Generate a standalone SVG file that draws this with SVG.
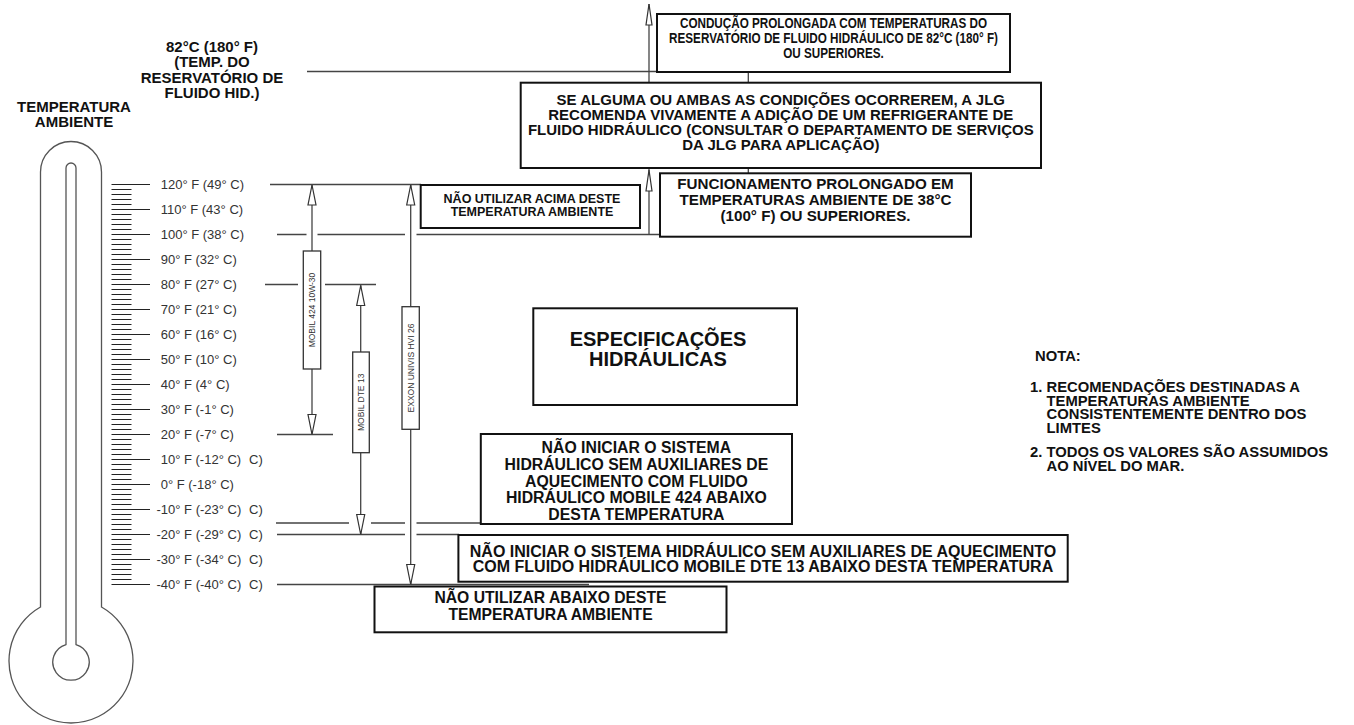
<svg xmlns="http://www.w3.org/2000/svg" xmlns:xlink="http://www.w3.org/1999/xlink" width="1354" height="725" viewBox="0 0 1354 725">
<style>
.lbl{font-family:"Liberation Sans",Arial,sans-serif;font-size:13px;fill:#333}
.b{font-family:"Liberation Sans",Arial,sans-serif;font-weight:bold;fill:#111;text-anchor:middle}
.bl{font-family:"Liberation Sans",Arial,sans-serif;font-weight:bold;fill:#111}
.box{fill:#fff;stroke:#111;stroke-width:2}
.bar{fill:#fff;stroke:#333;stroke-width:1.3}
.bt{font-family:"Liberation Sans",Arial,sans-serif;font-size:8.5px;fill:#333;text-anchor:middle}
.ln{stroke:#444;stroke-width:1.3;fill:none}
.tk{stroke:#222;stroke-width:1;fill:none}
.th{fill:#fff;stroke:#555;stroke-width:1.3}
.ah{fill:#fff;stroke:#333;stroke-width:1.2}
</style>
<defs>
<path id="ahUp" d="M0,0 L4,20 L-4,20 Z"/>
<path id="ahDn" d="M0,0 L4,-20 L-4,-20 Z"/>
<path id="ahUpS" d="M0,0 L3,21 L-3,21 Z"/>
</defs>
<rect width="1354" height="725" fill="#fff"/>

<g id="thermometer">
<path class="th" d="M40.5,607 V172 A30.5,30.5 0 0 1 101.5,172 V607 A62,62 0 1 1 40.5,607 Z"/>
<path class="th" d="M66,644.5 V168 A5,5 0 0 1 76,168 V644.5 A18.2,18.2 0 1 1 66,644.5 Z"/>
<path class="tk" d="M111.5 184.5h38.5M111.5 209.5h38.5M111.5 234.5h38.5M111.5 259.5h38.5M111.5 284.5h38.5M111.5 309.5h38.5M111.5 334.5h38.5M111.5 359.5h38.5M111.5 384.5h38.5M111.5 409.5h38.5M111.5 434.5h38.5M111.5 459.5h38.5M111.5 484.5h38.5M111.5 509.5h38.5M111.5 534.5h38.5M111.5 559.5h38.5M111.5 584.5h38.5"/>
<path class="tk" d="M111.5 189.5h20M111.5 194.5h20M111.5 199.5h20M111.5 204.5h20M111.5 214.5h20M111.5 219.5h20M111.5 224.5h20M111.5 229.5h20M111.5 239.5h20M111.5 244.5h20M111.5 249.5h20M111.5 254.5h20M111.5 264.5h20M111.5 269.5h20M111.5 274.5h20M111.5 279.5h20M111.5 289.5h20M111.5 294.5h20M111.5 299.5h20M111.5 304.5h20M111.5 314.5h20M111.5 319.5h20M111.5 324.5h20M111.5 329.5h20M111.5 339.5h20M111.5 344.5h20M111.5 349.5h20M111.5 354.5h20M111.5 364.5h20M111.5 369.5h20M111.5 374.5h20M111.5 379.5h20M111.5 389.5h20M111.5 394.5h20M111.5 399.5h20M111.5 404.5h20M111.5 414.5h20M111.5 419.5h20M111.5 424.5h20M111.5 429.5h20M111.5 439.5h20M111.5 444.5h20M111.5 449.5h20M111.5 454.5h20M111.5 464.5h20M111.5 469.5h20M111.5 474.5h20M111.5 479.5h20M111.5 489.5h20M111.5 494.5h20M111.5 499.5h20M111.5 504.5h20M111.5 514.5h20M111.5 519.5h20M111.5 524.5h20M111.5 529.5h20M111.5 539.5h20M111.5 544.5h20M111.5 549.5h20M111.5 554.5h20M111.5 564.5h20M111.5 569.5h20M111.5 574.5h20M111.5 579.5h20"/>
</g>

<g id="scale-labels">
<text class="lbl" x="160.7" y="189.2">120° F (49° C)</text>
<text class="lbl" x="160.7" y="214.2">110° F (43° C)</text>
<text class="lbl" x="160.7" y="239.2">100° F (38° C)</text>
<text class="lbl" x="160.7" y="264.2">90° F (32° C)</text>
<text class="lbl" x="160.7" y="289.2">80° F (27° C)</text>
<text class="lbl" x="160.7" y="314.2">70° F (21° C)</text>
<text class="lbl" x="160.7" y="339.2">60° F (16° C)</text>
<text class="lbl" x="160.7" y="364.2">50° F (10° C)</text>
<text class="lbl" x="160.7" y="389.2">40° F (4° C)</text>
<text class="lbl" x="160.7" y="414.2">30° F (-1° C)</text>
<text class="lbl" x="160.7" y="439.2">20° F (-7° C)</text>
<text class="lbl" x="160.7" y="464.2">10° F (-12° C)</text>
<text class="lbl" x="160.7" y="489.2">0° F (-18° C)</text>
<text class="lbl" x="156.5" y="514.2">-10° F (-23° C)</text>
<text class="lbl" x="156.5" y="539.2">-20° F (-29° C)</text>
<text class="lbl" x="156.5" y="564.2">-30° F (-34° C)</text>
<text class="lbl" x="156.5" y="589.2">-40° F (-40° C)</text>
<text class="lbl" x="249" y="464.2">C)</text>
<text class="lbl" x="249" y="514.2">C)</text>
<text class="lbl" x="249" y="539.2">C)</text>
<text class="lbl" x="249" y="564.2">C)</text>
<text class="lbl" x="249" y="589.2">C)</text>
</g>

<g id="label-ambiente">
<text class="b" font-size="15" x="74" y="111.7">TEMPERATURA</text>
<text class="b" font-size="15" x="74" y="126.7">AMBIENTE</text>
</g>

<g id="label-reservatorio">
<text class="b" font-size="15" x="212" y="51.5">82°C (180° F)</text>
<text class="b" font-size="15" x="212" y="67">(TEMP. DO</text>
<text class="b" font-size="15" x="212" y="82.5">RESERVATÓRIO DE</text>
<text class="b" font-size="15" x="212" y="98">FLUIDO HID.)</text>
</g>

<g id="connectors">
<path class="ln" d="M307 71.5H657"/>
<path class="ln" d="M270 184.5H421"/>
<path class="ln" d="M277 234.5H306.5M317.5 234.5H405M416.5 234.5H660"/>
<path class="ln" d="M265 284.5H298M325 284.5H376"/>
<path class="ln" d="M277 434.5H333"/>
<path class="ln" d="M276 523H349M371 523H405M416.5 523H481"/>
<path class="ln" d="M277 534.5H405M416.5 534.5H459"/>
<path class="ln" d="M277 584.5H589"/>
<path class="ln" d="M649 4V234.5"/>
<path class="ln" d="M748.3 72V83M748.3 168V173.5"/>
<path class="ln" d="M312 185V435"/>
<path class="ln" d="M360.7 285V535"/>
<path class="ln" d="M410.7 185V585"/>
<use class="ah" xlink:href="#ahUpS" x="649" y="4"/>
<use class="ah" xlink:href="#ahUpS" x="649" y="170"/>
<use class="ah" xlink:href="#ahUp" x="312" y="185"/>
<use class="ah" xlink:href="#ahDn" x="312" y="434.5"/>
<use class="ah" xlink:href="#ahUp" x="360.7" y="285.5"/>
<use class="ah" xlink:href="#ahDn" x="360.7" y="534.5"/>
<use class="ah" xlink:href="#ahUp" x="410.7" y="185"/>
<use class="ah" xlink:href="#ahDn" x="410.7" y="584.5"/>
</g>

<g id="bar-mobil424">
<rect class="bar" x="303.3" y="251" width="17.4" height="118"/>
<text class="bt" transform="translate(315 310) rotate(-90)">MOBIL 424 10W-30</text>
</g>
<g id="bar-mobildte13">
<rect class="bar" x="352.7" y="352" width="16.6" height="100.7"/>
<text class="bt" transform="translate(364 402.3) rotate(-90)">MOBIL DTE 13</text>
</g>
<g id="bar-exxon">
<rect class="bar" x="402" y="306.7" width="17.3" height="122.6"/>
<text class="bt" transform="translate(413.7 368) rotate(-90)">EXXON UNIVIS HVI 26</text>
</g>

<g id="box-conducao">
<rect class="box" x="657" y="14" width="353" height="58"/>
<g transform="translate(833.5 0) scale(0.78 1)">
<text class="b" font-size="15" x="0" y="28.3">CONDUÇÃO PROLONGADA COM TEMPERATURAS DO</text>
<text class="b" font-size="15" x="0" y="43.3">RESERVATÓRIO DE FLUIDO HIDRÁULICO DE 82°C (180° F)</text>
<text class="b" font-size="15" x="0" y="58.5">OU SUPERIORES.</text>
</g>
</g>

<g id="box-se-alguma">
<rect class="box" x="520.7" y="82.7" width="520.3" height="85.3"/>
<text class="b" font-size="15" x="780.8" y="105">SE ALGUMA OU AMBAS AS CONDIÇÕES OCORREREM, A JLG</text>
<text class="b" font-size="15" x="780.8" y="120">RECOMENDA VIVAMENTE A ADIÇÃO DE UM REFRIGERANTE DE</text>
<text class="b" font-size="15" x="780.8" y="135">FLUIDO HIDRÁULICO (CONSULTAR O DEPARTAMENTO DE SERVIÇOS</text>
<text class="b" font-size="15" x="780.8" y="150">DA JLG PARA APLICAÇÃO)</text>
</g>

<g id="box-funcionamento">
<rect class="box" x="660" y="173.3" width="311" height="63.4"/>
<text class="b" font-size="15.2" x="815.5" y="188.5">FUNCIONAMENTO PROLONGADO EM</text>
<text class="b" font-size="15.2" x="815.5" y="204.5">TEMPERATURAS AMBIENTE DE 38°C</text>
<text class="b" font-size="15.2" x="815.5" y="220.5">(100° F) OU SUPERIORES.</text>
</g>

<g id="box-acima">
<rect class="box" x="420.7" y="185" width="219.3" height="43"/>
<text class="b" font-size="12.5" x="532" y="203.3">NÃO UTILIZAR ACIMA DESTE</text>
<text class="b" font-size="12.5" x="532" y="215.7">TEMPERATURA AMBIENTE</text>
</g>

<g id="box-especificacoes">
<rect class="box" x="533.3" y="308.3" width="263.7" height="96.7"/>
<text class="b" font-size="20" x="658" y="345.5">ESPECIFICAÇÕES</text>
<text class="b" font-size="20" x="658" y="365.5">HIDRÁULICAS</text>
</g>

<g id="box-mobile424">
<rect class="box" x="480.8" y="434" width="311.2" height="90"/>
<text class="b" font-size="15.8" x="636.4" y="453.3">NÃO INICIAR O SISTEMA</text>
<text class="b" font-size="15.8" x="636.4" y="470">HIDRÁULICO SEM AUXILIARES DE</text>
<text class="b" font-size="15.8" x="636.4" y="486.7">AQUECIMENTO COM FLUIDO</text>
<text class="b" font-size="15.8" x="636.4" y="503.3">HIDRÁULICO MOBILE 424 ABAIXO</text>
<text class="b" font-size="15.8" x="636.4" y="519.7">DESTA TEMPERATURA</text>
</g>

<g id="box-dte13">
<rect class="box" x="458.4" y="535" width="609.3" height="46.7"/>
<text class="b" font-size="16" x="763" y="556.7">NÃO INICIAR O SISTEMA HIDRÁULICO SEM AUXILIARES DE AQUECIMENTO</text>
<text class="b" font-size="16" x="763" y="571.7">COM FLUIDO HIDRÁULICO MOBILE DTE 13 ABAIXO DESTA TEMPERATURA</text>
</g>

<g id="box-abaixo">
<rect class="box" x="374.5" y="586.5" width="352" height="45.8"/>
<text class="b" font-size="15.7" x="550.5" y="603.3">NÃO UTILIZAR ABAIXO DESTE</text>
<text class="b" font-size="15.7" x="550.5" y="620">TEMPERATURA AMBIENTE</text>
</g>

<g id="nota">
<text class="bl" font-size="14.8" x="1035" y="360.5">NOTA:</text>
<text class="bl" font-size="14.8" x="1030" y="391.7">1.</text>
<text class="bl" font-size="14.8" x="1046.5" y="391.7">RECOMENDAÇÕES DESTINADAS A</text>
<text class="bl" font-size="14.8" x="1046.5" y="405.5">TEMPERATURAS AMBIENTE</text>
<text class="bl" font-size="14.8" x="1046.5" y="419.3">CONSISTENTEMENTE DENTRO DOS</text>
<text class="bl" font-size="14.8" x="1046.5" y="433">LIMTES</text>
<text class="bl" font-size="14.8" x="1030" y="457">2.</text>
<text class="bl" font-size="14.8" x="1046.5" y="457">TODOS OS VALORES SÃO ASSUMIDOS</text>
<text class="bl" font-size="14.8" x="1046.5" y="471">AO NÍVEL DO MAR.</text>
</g>
</svg>
